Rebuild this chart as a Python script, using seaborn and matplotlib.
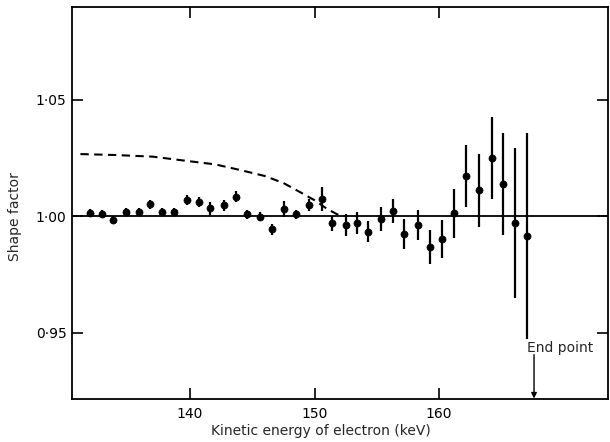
import matplotlib
matplotlib.use("Agg")
import matplotlib.pyplot as plt
import seaborn as sns
import pandas as pd

# ---- data ----
energy = [131.97, 132.93, 133.84, 134.86, 135.88, 136.81, 137.75, 138.74, 139.76,
          140.72, 141.63, 142.71, 143.67, 144.60, 145.62, 146.61, 147.57, 148.54,
          149.53, 150.58, 151.43, 152.51, 153.41, 154.32, 155.34, 156.28, 157.21,
          158.29, 159.25, 160.22, 161.23, 162.19, 163.19, 164.23, 165.12, 166.10,
          167.04]
shape = [1.0012, 1.0009, 0.9983, 1.0016, 1.0016, 1.0050, 1.0017, 1.0016, 1.0069,
         1.0061, 1.0033, 1.0046, 1.0083, 1.0007, 0.9997, 0.9943, 1.0029, 1.0007,
         1.0047, 1.0073, 0.9969, 0.9961, 0.9971, 0.9933, 0.9987, 1.0023, 0.9923,
         0.9961, 0.9868, 0.9900, 1.0012, 1.0172, 1.0110, 1.0249, 1.0137, 0.9971,
         0.9913]
err = [0.0017, 0.0017, 0.0017, 0.0017, 0.0017, 0.0020, 0.0017, 0.0017, 0.0021,
       0.0020, 0.0029, 0.0025, 0.0024, 0.0018, 0.0020, 0.0023, 0.0034, 0.0021,
       0.0026, 0.0050, 0.0032, 0.0048, 0.0046, 0.0046, 0.0052, 0.0051, 0.0064,
       0.0064, 0.0073, 0.0082, 0.0106, 0.0134, 0.0156, 0.0177, 0.0218, 0.0323,
       0.0442]

curve_x = [131.2, 134.0, 137.0, 140.0, 142.0, 144.0, 146.0, 147.5, 149.0, 150.0,
           151.0, 151.8, 152.4]
curve_y = [1.0266, 1.0262, 1.0255, 1.0235, 1.0222, 1.0198, 1.0172, 1.0142, 1.0098,
           1.0068, 1.0031, 1.0008, 1.0000]

end_point = 167.63
xticks = [140, 150, 160]
yticks = [0.95, 1.00, 1.05]
ytick_labels = ["0\u00b795", "1\u00b700", "1\u00b705"]

df = pd.DataFrame({"energy": energy, "shape": shape, "err": err})
dfc = pd.DataFrame({"x": curve_x, "y": curve_y})

sns.set_style("white")
plt.rcParams["font.family"] = ["DejaVu Sans"]

fig = plt.figure(figsize=(6.10, 4.42), dpi=100)
ax = fig.add_axes([0.118, 0.0984, 0.8787, 0.8851])

# reference line at 1.00
ax.axhline(1.0, color="black", lw=1.3, zorder=1)

# dashed theoretical curve
sns.lineplot(data=dfc, x="x", y="y", ax=ax, color="black", lw=1.5,
             dashes=False, zorder=2)
ax.lines[-1].set_dashes((4.0, 2.6))

# error bars + points
ax.errorbar(df["energy"], df["shape"], yerr=df["err"], fmt="none",
            ecolor="black", elinewidth=1.6, capsize=0, zorder=3)
sns.scatterplot(data=df, x="energy", y="shape", ax=ax, color="black",
                s=26, edgecolor="black", linewidth=0.5, zorder=4)

ax.set_xlim(130.52, 173.57)
ax.set_ylim(0.9217, 1.0896)

ax.set_xticks(xticks)
ax.set_xticklabels([str(t) for t in xticks], fontsize=10)
ax.set_yticks(yticks)
ax.set_yticklabels(ytick_labels, fontsize=10)
ax.tick_params(direction="in", length=8, width=1.2, top=True, right=True,
               bottom=True, left=True, colors="black")
ax.tick_params(axis="y", pad=4)
ax.tick_params(axis="x", pad=6)

for s in ax.spines.values():
    s.set_color("black")
    s.set_linewidth(1.3)

ax.set_xlabel("Kinetic energy of electron (keV)", fontsize=10)
ax.xaxis.set_label_coords(0.4636, -0.066)
ax.set_ylabel("Shape factor", fontsize=10)
ax.yaxis.set_label_coords(-0.093, 0.464)

# end point annotation
ax.annotate("", xy=(end_point, 0.9217), xytext=(end_point, 0.9405),
            arrowprops=dict(arrowstyle="-|>", color="black", lw=1.0,
                            mutation_scale=8, shrinkA=0, shrinkB=0))
ax.text(167.07, 0.9435, "End point", fontsize=10, ha="left", va="center")

fig.savefig("out.png", dpi=100)
